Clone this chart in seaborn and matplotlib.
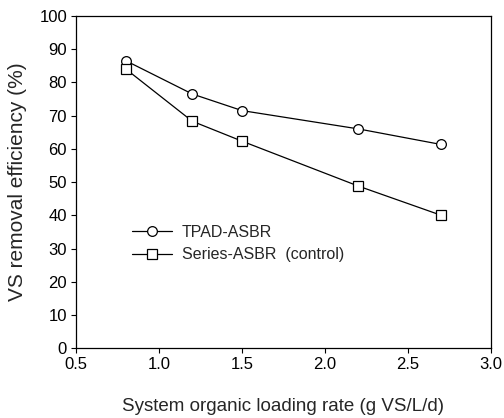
import matplotlib.pyplot as plt
import seaborn as sns
import pandas as pd

# Data
olr = [0.8, 1.2, 1.5, 2.2, 2.7]
tpad = [86.5, 76.5, 71.5, 66.0, 61.3]
series = [84.0, 68.3, 62.3, 48.8, 40.0]

data = pd.DataFrame({'OLR': olr, 'TPAD-ASBR': tpad, 'Series-ASBR  (control)': series})

sns.set_style('ticks')
plt.rcParams['font.family'] = ['Liberation Sans', 'DejaVu Sans']

fig = plt.figure(figsize=(5.04, 4.18), dpi=100)
ax = fig.add_axes([0.151, 0.167, 0.823, 0.795])

markers = {'TPAD-ASBR': 'o', 'Series-ASBR  (control)': 's'}
for name, m in markers.items():
    sns.lineplot(data=data, x='OLR', y=name, ax=ax, color='black', linewidth=0.9,
                 marker=m, markersize=7, markerfacecolor='white',
                 markeredgecolor='black', markeredgewidth=0.9, label=name)

ax.set(xlim=(0.5, 3.0), ylim=(0, 100))
ax.set_xticks([0.5, 1.0, 1.5, 2.0, 2.5, 3.0])
ax.set_xticklabels(['0.5', '1.0', '1.5', '2.0', '2.5', '3.0'])
ax.set_yticks(range(0, 101, 10))
ax.tick_params(labelsize=12, direction='out', length=3.5, width=0.8, colors='black', pad=3)
for s in ax.spines.values():
    s.set_color('black')
    s.set_linewidth(0.9)

ax.set_xlabel('System organic loading rate (g VS/L/d)', fontsize=13.5)
ax.set_ylabel('VS removal efficiency (%)', fontsize=15)
ax.xaxis.set_label_coords(0.5, -0.15)
ax.yaxis.set_label_coords(-0.118, 0.5)

ax.legend(loc='upper left', bbox_to_anchor=(0.12, 0.39), frameon=False, fontsize=11.5,
          handlelength=2.5, handletextpad=0.6, labelspacing=0.45, borderaxespad=0)

plt.savefig('out.png', dpi=100)
